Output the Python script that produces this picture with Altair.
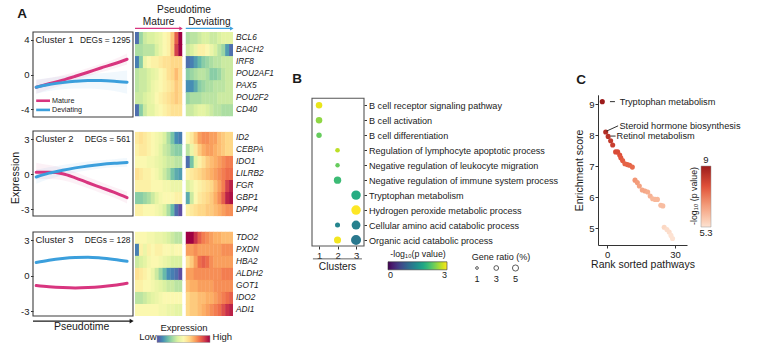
import altair as alt
import pandas as pd

FONT = "Liberation Sans"
PINK = "#d8357f"
BLUE = "#3b9fdc"
INK = "#1a1a1a"
AX = "#333333"

# ================= Panel A : smoothed expression trajectories =================
pseudotime = [0.0, 0.14, 0.29, 0.43, 0.57, 0.71, 0.86, 1.0]
c1_mature = [-1.46, -1.06, -0.64, -0.2, 0.26, 0.74, 1.23, 1.74]
c1_deviating = [-1.46, -1.15, -0.93, -0.78, -0.7, -0.7, -0.76, -0.88]
c2_mature = [0.17, 0.17, 0.05, -0.3, -0.72, -1.12, -1.55, -2.0]
c2_deviating = [-0.23, 0.1, 0.35, 0.55, 0.72, 0.85, 0.95, 1.02]
c3_mature = [-0.85, -0.95, -1.02, -1.05, -1.02, -0.95, -0.82, -0.65]
c3_deviating = [1.1, 1.3, 1.45, 1.53, 1.55, 1.48, 1.35, 1.2]
# faint spread of the individual gene trajectories (lower / upper envelopes)
c1_mature_lo = [-2.2, -1.7, -1.2, -0.7, -0.2, 0.25, 0.7, 1.15]
c1_mature_hi = [-0.6, -0.4, -0.1, 0.3, 0.75, 1.2, 1.75, 2.4]
c1_deviating_lo = [-2.2, -1.9, -1.7, -1.6, -1.6, -1.7, -1.9, -2.2]
c1_deviating_hi = [-0.6, -0.4, -0.2, -0.05, 0.05, 0.15, 0.3, 0.45]
c2_mature_lo = [-0.4, -0.4, -0.5, -0.8, -1.2, -1.6, -2.0, -2.5]
c2_mature_hi = [1.0, 0.8, 0.55, 0.2, -0.25, -0.65, -1.1, -1.5]
c2_deviating_lo = [-0.8, -0.4, -0.1, 0.15, 0.35, 0.5, 0.6, 0.65]
c2_deviating_hi = [0.4, 0.6, 0.8, 0.95, 1.1, 1.2, 1.3, 1.4]
cluster_names = ["Cluster 1", "Cluster 2", "Cluster 3"]
cluster_degs = ["DEGs = 1295", "DEGs = 561", "DEGs = 128"]
cluster_ticks = [[4, 0, -4], [3, 0, -3], [3, 0, -3]]
branches = ["Mature", "Deviating"]

# ================= Panel A : heatmaps (12 pseudotime bins per branch) =================
cluster1_genes = ["BCL6", "BACH2", "IRF8", "POU2AF1", "PAX5", "POU2F2", "CD40"]
cluster1_mature = [
    [-1.6, -0.8, -0.5, -0.4, -0.4, -0.3, -0.2, 0.0, 0.1, 0.5, 1.2, 2.0],
    [-0.7, -0.7, -0.6, -0.6, -0.6, -0.4, -0.2, 0.0, 0.1, 0.5, 1.4, 1.8],
    [-1.5, -0.9, -0.2, 0.0, 0.1, 0.1, 0.2, 0.3, 0.3, 0.4, 0.4, 0.4],
    [-0.6, -0.5, -0.5, -0.4, -0.3, -0.2, 0.0, 0.1, 0.3, 0.4, 0.6, 0.4],
    [-0.6, -0.5, -0.5, -0.4, -0.2, -0.1, 0.0, 0.1, 0.2, 0.3, 0.5, 0.4],
    [-0.5, -0.5, -0.4, -0.3, -0.2, 0.0, 0.1, 0.2, 0.3, 0.4, 0.5, 0.4],
    [-1.6, -0.9, -0.5, -0.3, -0.3, -0.1, 0.0, 0.1, 0.2, 0.3, 0.3, 0.3],
]
cluster1_deviating = [
    [-0.7, -0.6, -0.6, -0.5, -0.4, -0.4, -0.5, -0.5, -0.4, -0.3, -0.3, -0.3],
    [-0.5, -0.4, -0.2, 0.1, 0.1, 0.0, -0.2, -0.4, -0.6, -0.8, -1.3, -1.6],
    [-1.6, -1.5, -1.3, -1.1, -0.9, -0.8, -0.7, -0.6, -0.6, -0.5, -0.5, -0.5],
    [-0.9, -0.8, -0.7, -0.6, -0.6, -0.7, -0.9, -0.9, -0.8, -0.6, -0.5, -0.5],
    [-1.4, -1.4, -1.2, -0.9, -0.8, -0.7, -0.7, -0.6, -0.6, -0.6, -0.5, -0.5],
    [-0.8, -0.7, -0.7, -0.7, -0.6, -0.6, -0.6, -0.6, -0.5, -0.5, -0.5, -0.5],
    [-0.5, -0.5, -0.4, -0.3, -0.3, -0.4, -0.5, -0.6, -0.6, -0.7, -0.7, -0.7],
]
cluster2_genes = ["ID2", "CEBPA", "IDO1", "LILRB2", "FGR", "GBP1", "DPP4"]
cluster2_mature = [
    [0.2, 0.3, 0.2, 0.1, 0.0, -0.1, -0.2, -0.4, -0.7, -1.0, -1.4, -1.5],
    [0.1, 0.2, 0.2, 0.1, 0.0, -0.1, -0.3, -0.5, -0.6, -0.8, -0.9, -0.9],
    [0.0, 0.0, 0.0, -0.1, -0.1, -0.2, -0.3, -0.4, -0.5, -0.5, -0.6, -0.6],
    [0.3, 0.2, 0.1, 0.1, 0.0, -0.1, -0.3, -0.5, -0.7, -1.0, -1.2, -1.3],
    [0.1, 0.1, 0.1, 0.1, 0.0, 0.0, 0.0, -0.1, -0.1, -0.2, -0.2, -0.2],
    [-0.9, -0.9, -0.8, -0.7, -0.5, -0.3, -0.1, 0.0, 0.0, 0.0, 0.1, 0.1],
    [0.1, 0.1, 0.0, 0.0, 0.0, -0.1, -0.2, -0.4, -0.7, -1.1, -1.6, -1.8],
]
cluster2_deviating = [
    [0.0, 0.2, 0.5, 0.8, 0.9, 0.9, 0.8, 0.8, 0.6, 0.5, 0.4, 0.4],
    [-0.6, -0.2, 0.2, 0.5, 0.7, 0.8, 0.8, 0.7, 0.6, 0.5, 0.4, 0.4],
    [-1.6, -1.0, -0.3, 0.1, 0.3, 0.5, 0.6, 0.7, 0.8, 0.9, 1.0, 1.0],
    [0.1, 0.2, 0.3, 0.4, 0.5, 0.6, 0.7, 0.8, 0.9, 1.0, 1.1, 1.1],
    [-0.4, -0.2, 0.0, 0.1, 0.2, 0.3, 0.4, 0.6, 0.8, 1.0, 1.4, 1.6],
    [-1.2, -0.5, 0.0, 0.2, 0.3, 0.4, 0.5, 0.7, 0.9, 1.2, 1.6, 1.7],
    [0.1, 0.2, 0.3, 0.4, 0.4, 0.5, 0.5, 0.6, 0.7, 0.8, 0.9, 0.9],
]
cluster3_genes = ["TDO2", "PXDN", "HBA2", "ALDH2", "GOT1", "IDO2", "ADI1"]
cluster3_mature = [
    [0.0, 0.0, 0.0, -0.1, -0.1, -0.2, -0.2, -0.3, -0.4, -0.5, -0.6, -0.6],
    [-1.5, 0.1, -0.2, 0.1, 0.0, 0.1, 0.1, 0.0, 0.0, -0.1, 0.0, 0.0],
    [-0.5, -0.4, -0.3, -0.1, 0.0, 0.0, -0.1, -0.2, -0.3, -0.4, -0.4, -0.4],
    [0.3, 0.2, 0.1, 0.0, -0.2, -0.5, -0.8, -1.1, -1.4, -1.5, -1.6, -1.8],
    [0.1, 0.1, 0.0, 0.0, -0.1, -0.2, -0.3, -0.4, -0.5, -0.5, -0.6, -0.6],
    [-0.6, -0.6, -0.5, -0.4, -0.3, -0.2, -0.1, 0.0, 0.0, 0.0, 0.0, 0.0],
    [0.0, 0.0, 0.0, 0.0, 0.0, 0.0, -0.1, -0.1, -0.2, -0.2, -0.3, -0.3],
]
cluster3_deviating = [
    [1.9, 1.8, 1.5, 1.2, 1.0, 0.9, 0.8, 0.7, 0.7, 0.6, 0.6, 0.6],
    [0.8, 0.8, 0.9, 0.8, 0.8, 0.8, 0.8, 0.8, 0.8, 0.9, 0.9, 0.9],
    [0.3, 0.5, 0.8, 1.1, 1.2, 1.1, 0.9, 0.8, 0.8, 0.8, 0.8, 0.8],
    [0.8, 0.8, 0.9, 0.9, 0.9, 0.9, 0.9, 0.9, 0.9, 1.0, 1.0, 1.0],
    [0.6, 0.7, 0.7, 0.8, 0.8, 0.8, 0.8, 0.9, 0.9, 0.9, 0.9, 0.9],
    [0.4, 0.5, 0.5, 0.6, 0.6, 0.7, 0.7, 0.8, 0.9, 1.0, 1.1, 1.2],
    [0.4, 0.5, 0.5, 0.6, 0.7, 0.8, 0.9, 1.0, 1.1, 1.3, 1.5, 1.6],
]

# ================= Panel B : enrichment dot plot =================
pathways = [
    "B cell receptor signaling pathway",
    "B cell activation",
    "B cell differentiation",
    "Regulation of lymphocyte apoptotic process",
    "Negative regulation of leukocyte migration",
    "Negative regulation of immune system process",
    "Tryptophan metabolism",
    "Hydrogen peroxide metabolic process",
    "Cellular amino acid catabolic process",
    "Organic acid catabolic process",
]
b_pathway_idx = [0, 1, 2, 3, 4, 5, 6, 7, 8, 8, 9, 9]
b_cluster = [1, 1, 1, 2, 2, 2, 3, 3, 2, 3, 2, 3]
b_logp = [2.9, 2.5, 2.3, 2.7, 2.3, 2.05, 1.85, 3.0, 1.35, 1.3, 2.95, 1.2]
b_ratio = [5.6, 5.6, 3.8, 2.9, 2.6, 7.2, 12.0, 12.0, 3.4, 10.5, 6.7, 13.4]
ratio_legend = [1, 3, 5]

# ================= Panel C : ranked pathways =================
c_rank = [-2.2, -0.7, 0.4, 1.5, 2.4, 3.7, 4.6, 5.5, 6.0, 6.8, 7.8, 8.9, 9.9, 11.1, 12.3, 13.3,
          14.2, 15.5, 16.7, 17.9, 19.0, 20.1, 21.2, 22.2, 23.7, 24.6, 25.2, 26.4, 27.4, 28.2, 28.9]
c_score = [9.08, 8.1, 7.96, 7.82, 7.68, 7.46, 7.46, 7.36, 7.27, 7.18, 7.08, 7.05, 7.03, 6.97, 6.55, 6.47,
           6.36, 6.23, 6.2, 6.17, 6.04, 5.95, 5.93, 5.93, 5.74, 5.72, 5.03, 4.96, 4.88, 4.77, 4.67]
c_logp = [9.0, 8.6, 8.5, 8.3, 8.2, 7.9, 7.9, 7.8, 7.7, 7.6, 7.5, 7.5, 7.5, 7.4, 6.7, 6.6,
          6.5, 6.4, 6.4, 6.3, 6.2, 6.1, 6.1, 6.1, 6.0, 6.0, 5.5, 5.4, 5.4, 5.3, 5.3]
c_labels = ["Tryptophan metabolism", "Steroid hormone biosynthesis", "Retinol metabolism"]

# ---------------------------------------------------------------------------
def sc(dom, rng):
    return alt.Scale(domain=dom, range=rng, nice=False, zero=False)


def X(field, dom, rng, axis=None):
    return alt.X(field, type="quantitative", scale=sc(dom, rng), axis=axis)


def Y(field, dom, rng, axis=None):
    return alt.Y(field, type="quantitative", scale=sc(dom, rng), axis=axis)


branch_color = alt.Color("branch:N", scale=alt.Scale(domain=branches, range=[PINK, BLUE]), legend=None)

layers = []

# ---------- Panel A trajectories ----------
A_XD, A_XR = [-0.035, 1.065], [33, 133]
A_YD = [[-4.86, 4.86], [-3.57, 3.71], [-3.42, 3.68]]
A_YR = [[117, 32], [216, 131], [316, 232]]
series = [(c1_mature, c1_deviating), (c2_mature, c2_deviating), (c3_mature, c3_deviating)]
bands = [
    (c1_mature_lo, c1_mature_hi, c1_deviating_lo, c1_deviating_hi),
    (c2_mature_lo, c2_mature_hi, c2_deviating_lo, c2_deviating_hi),
]

for i in range(3):
    yd, yr = A_YD[i], A_YR[i]
    if i < 2:
        mlo, mhi, dlo, dhi = bands[i]
        band_df = pd.DataFrame({
            "t": pseudotime + pseudotime,
            "lo": mlo + dlo,
            "hi": mhi + dhi,
            "branch": ["Mature"] * len(mlo) + ["Deviating"] * len(dlo),
        })
        layers.append(
            alt.Chart(band_df).mark_area(opacity=0.07, interpolate="monotone").encode(
                x=X("t", A_XD, A_XR), y=Y("lo", yd, yr), y2="hi", color=branch_color)
        )
    box_df = pd.DataFrame({"x0": [A_XD[0]], "x1": [A_XD[1]], "y0": [yd[0]], "y1": [yd[1]]})
    layers.append(
        alt.Chart(box_df).mark_rect(fillOpacity=0, stroke="#3c3c3c", strokeWidth=1.1).encode(
            x=X("x0", A_XD, A_XR), x2="x1",
            y=Y("y0", yd, yr, axis=alt.Axis(
                orient="left", offset=-33, values=cluster_ticks[i], labelExpr="'' + datum.value",
                tickSize=2.5, tickColor=AX, domain=False, grid=False, labelFontSize=9.5,
                labelColor=INK, labelPadding=1.5, title=None)),
            y2="y1",
        )
    )
    mat, dev = series[i]
    line_df = pd.DataFrame({
        "t": pseudotime + pseudotime,
        "v": mat + dev,
        "branch": ["Mature"] * len(mat) + ["Deviating"] * len(dev),
    })
    layers.append(
        alt.Chart(line_df).mark_line(strokeWidth=3, interpolate="monotone", strokeCap="round").encode(
            x=X("t", A_XD, A_XR), y=Y("v", yd, yr), color=branch_color,
        )
    )
    name_df = pd.DataFrame({"x": [A_XD[0]], "y": [cluster_ticks[i][0]], "label": [cluster_names[i]]})
    layers.append(
        alt.Chart(name_df).mark_text(align="left", baseline="middle", dx=2.5, fontSize=9.5, color=INK).encode(
            x=X("x", A_XD, A_XR), y=Y("y", yd, yr), text="label:N")
    )
    deg_df = pd.DataFrame({"x": [A_XD[1]], "y": [cluster_ticks[i][0]], "label": [cluster_degs[i]]})
    layers.append(
        alt.Chart(deg_df).mark_text(align="right", baseline="middle", dx=-2.5, fontSize=8.4, color=INK).encode(
            x=X("x", A_XD, A_XR), y=Y("y", yd, yr), text="label:N")
    )

# legend of cluster 1
leg_df = pd.DataFrame({"x0": [0.0, 0.0], "x1": [0.152, 0.152], "y": [-3.0, -4.05], "branch": branches})
layers.append(
    alt.Chart(leg_df).mark_rule(strokeWidth=2.6).encode(
        x=X("x0", A_XD, A_XR), x2="x1", y=Y("y", A_YD[0], A_YR[0]), color=branch_color)
)
leg_txt = pd.DataFrame({"x": [0.175, 0.175], "y": [-3.0, -4.05], "branch": branches})
layers.append(
    alt.Chart(leg_txt).mark_text(align="left", baseline="middle", fontSize=7.2, color=INK).encode(
        x=X("x", A_XD, A_XR), y=Y("y", A_YD[0], A_YR[0]), text="branch:N")
)

# pseudotime arrow below cluster 3
arr_df = pd.DataFrame({"x0": [-0.035], "x1": [1.04], "y": [-3.85]})
layers.append(
    alt.Chart(arr_df).mark_rule(strokeWidth=1.3, color=INK).encode(
        x=X("x0", A_XD, A_XR), x2="x1", y=Y("y", A_YD[2], A_YR[2]))
)
layers.append(
    alt.Chart(pd.DataFrame({"x": [1.05], "y": [-3.85]})).mark_point(
        shape="triangle-right", filled=True, size=22, color=INK, opacity=1).encode(
        x=X("x", A_XD, A_XR), y=Y("y", A_YD[2], A_YR[2]))
)
layers.append(
    alt.Chart(pd.DataFrame({"x": [0.5], "y": [-4.37], "label": ["Pseudotime"]})).mark_text(
        baseline="middle", fontSize=10.5, color=INK).encode(
        x=X("x", A_XD, A_XR), y=Y("y", A_YD[2], A_YR[2]), text="label:N")
)

# ---------- Panel A heatmaps ----------
H_XD, H_XR = [0, 24.9], [135, 233]
H_YD, H_YR = [0, 23.6], [32, 316]
DEV_OFF = 12.9
heat_rows = []
gene_rows = []
for ci, (genes, mat, dev) in enumerate([
    (cluster1_genes, cluster1_mature, cluster1_deviating),
    (cluster2_genes, cluster2_mature, cluster2_deviating),
    (cluster3_genes, cluster3_mature, cluster3_deviating),
]):
    for gi, gene in enumerate(genes):
        r0 = ci * 8.3 + gi
        gene_rows.append({"x": H_XD[1], "y": r0 + 0.5, "gene": gene})
        for off, vals in ((0.0, mat[gi]), (DEV_OFF, dev[gi])):
            n = len(vals)
            for k, v in enumerate(vals):
                heat_rows.append({
                    "x0": off + k,
                    "x1": off + k + (1.0 if k == n - 1 else 1.1),
                    "y0": r0,
                    "y1": r0 + (1.0 if gi == len(genes) - 1 else 1.08),
                    "value": v,
                })
heat_df = pd.DataFrame(heat_rows)
layers.append(
    alt.Chart(heat_df).mark_rect(strokeWidth=0).encode(
        x=X("x0", H_XD, H_XR), x2="x1", y=Y("y0", H_YD, H_YR), y2="y1",
        color=alt.Color("value:Q", scale=alt.Scale(scheme="spectral", reverse=True, domain=[-1.8, 1.8], clamp=True),
                        legend=alt.Legend(orient="none", legendX=157, legendY=323, direction="horizontal",
                                          gradientLength=53, gradientThickness=7, title="Expression",
                                          titleFontSize=9.5, titleFontWeight="normal", titleAnchor="middle",
                                          titleColor=INK, titlePadding=3, titleBaseline="top", labelExpr="''",
                                          gradientStrokeColor="#999", gradientStrokeWidth=0.5)),
    )
)
layers.append(
    alt.Chart(pd.DataFrame(gene_rows)).mark_text(
        align="left", baseline="middle", dx=3, fontSize=8.3, fontStyle="italic", color=INK).encode(
        x=X("x", H_XD, H_XR), y=Y("y", H_YD, H_YR), text="gene:N")
)
# header arrows
hdr_df = pd.DataFrame({"x0": [0.0, DEV_OFF], "x1": [11.6, DEV_OFF + 11.6], "y": [-0.3, -0.3], "branch": branches})
layers.append(
    alt.Chart(hdr_df).mark_rule(strokeWidth=1.3).encode(
        x=X("x0", H_XD, H_XR), x2="x1", y=Y("y", H_YD, H_YR), color=branch_color)
)
hdr_tip = pd.DataFrame({"x": [11.7, DEV_OFF + 11.7], "y": [-0.3, -0.3], "branch": branches})
layers.append(
    alt.Chart(hdr_tip).mark_point(shape="triangle-right", filled=True, size=16, opacity=1).encode(
        x=X("x", H_XD, H_XR), y=Y("y", H_YD, H_YR), color=branch_color)
)
hdr_txt = pd.DataFrame({"x": [6.0, DEV_OFF + 6.0, 12.45], "y": [-0.85, -0.85, -1.8],
                        "label": ["Mature", "Deviating", "Pseudotime"]})
layers.append(
    alt.Chart(hdr_txt).mark_text(baseline="middle", fontSize=10.2, color=INK).encode(
        x=X("x", H_XD, H_XR), y=Y("y", H_YD, H_YR), text="label:N")
)
lohi = pd.DataFrame({"x": [5.5, 19.7], "y": [25.35, 25.35], "label": ["Low", "High"], "al": ["r", "l"]})
layers.append(
    alt.Chart(lohi[lohi.al == "r"]).mark_text(align="right", baseline="middle", fontSize=9.5, color=INK).encode(
        x=X("x", H_XD, H_XR), y=Y("y", H_YD, H_YR), text="label:N")
)
layers.append(
    alt.Chart(lohi[lohi.al == "l"]).mark_text(align="left", baseline="middle", fontSize=9.5, color=INK).encode(
        x=X("x", H_XD, H_XR), y=Y("y", H_YD, H_YR), text="label:N")
)

# ---------- Panel B ----------
B_XD, B_XR = [0.62, 3.43], [312, 364]
B_YD, B_YR = [-0.47, 9.4], [98.3, 246]
box_b = pd.DataFrame({"x0": [B_XD[0]], "x1": [B_XD[1]], "y0": [B_YD[0]], "y1": [B_YD[1]]})
label_expr = "[" + ",".join("'" + p + "'" for p in pathways) + "][datum.value]"
layers.append(
    alt.Chart(box_b).mark_rect(fillOpacity=0, stroke="#555", strokeWidth=1.1).encode(
        x=X("x0", B_XD, B_XR, axis=alt.Axis(orient="bottom", offset=-(355 - 246), values=[1, 2, 3], tickSize=3,
                                             tickColor=AX, domain=False, grid=False, labelFontSize=9.5,
                                             labelColor=INK, labelPadding=1, title=None, labelFlush=False)),
        x2="x1",
        y=Y("y0", B_YD, B_YR, axis=alt.Axis(orient="right", offset=-(763 - 364), values=list(range(10)),
                                             labelExpr=label_expr, tickSize=2.5, tickColor=AX, domain=False,
                                             grid=False, labelFontSize=9.1, labelColor=INK, labelPadding=2,
                                             title=None, labelOverlap=False, labelLimit=400)),
        y2="y1",
    )
)
dots = pd.DataFrame({"row": b_pathway_idx, "cluster": b_cluster, "logp": b_logp, "ratio": b_ratio})
SIZE_SC = alt.Scale(domain=[0, 14], range=[0, 105], zero=True)
layers.append(
    alt.Chart(dots).mark_circle(opacity=1).encode(
        x=X("cluster", B_XD, B_XR), y=Y("row", B_YD, B_YR),
        size=alt.Size("ratio:Q", scale=SIZE_SC, legend=None),
        color=alt.Color("logp:Q", scale=alt.Scale(scheme="viridis", domain=[0, 3]),
                        legend=alt.Legend(orient="none", legendX=388, legendY=250, direction="horizontal",
                                          gradientLength=59, gradientThickness=8, title="-log₁₀(p value)",
                                          titleFontSize=8.8, titleFontWeight="normal", titleAnchor="middle",
                                          titleColor=INK, titlePadding=3, values=[0, 3], labelFontSize=9,
                                          labelColor=INK, labelOffset=1, gradientStrokeColor="#333",
                                          gradientStrokeWidth=0.6)),
    )
)
clus_line = pd.DataFrame({"x0": [0.67], "x1": [3.32], "y": [10.26]})
layers.append(
    alt.Chart(clus_line).mark_rule(strokeWidth=0.9, color="#555").encode(
        x=X("x0", B_XD, B_XR), x2="x1", y=Y("y", B_YD, B_YR))
)
layers.append(
    alt.Chart(pd.DataFrame({"x": [2.0], "y": [10.78], "label": ["Clusters"]})).mark_text(
        baseline="middle", fontSize=10.2, color=INK).encode(
        x=X("x", B_XD, B_XR), y=Y("y", B_YD, B_YR), text="label:N")
)
# gene ratio legend (size scale shared with the dots)
GL_XD, GL_XR = [1, 5], [477, 515.5]
GL_YD, GL_YR = [0, 1], [268, 278.5]
gl = pd.DataFrame({"ratio": ratio_legend, "row": [0] * 3, "lab_row": [1] * 3, "label": [str(v) for v in ratio_legend]})
layers.append(
    alt.Chart(gl).mark_point(shape="circle", filled=False, stroke="#333", strokeWidth=0.8, opacity=1).encode(
        x=X("ratio", GL_XD, GL_XR), y=Y("row", GL_YD, GL_YR),
        size=alt.Size("ratio:Q", scale=SIZE_SC, legend=None))
)
layers.append(
    alt.Chart(gl).mark_text(baseline="middle", fontSize=9.2, color=INK).encode(
        x=X("ratio", GL_XD, GL_XR), y=Y("lab_row", GL_YD, GL_YR), text="label:N")
)

# ---------- Panel C ----------
C_XD, C_XR = [-4.1, 35.3], [598, 687]
C_YD, C_YR = [4.46, 9.3], [245, 94.8]
cdf = pd.DataFrame({"rank": c_rank, "score": c_score, "logp": c_logp})
layers.append(
    alt.Chart(cdf).mark_circle(size=26, opacity=1).encode(
        x=X("rank", C_XD, C_XR, axis=alt.Axis(orient="bottom", offset=-(355 - 245), values=[0, 30], tickSize=3,
                                               tickColor=AX, domainColor=AX, domainWidth=1, grid=False,
                                               labelFontSize=9.5, labelColor=INK, labelPadding=1,
                                               labelFlush=False, title="Rank sorted pathways",
                                               titleFontSize=10.5, titleFontWeight="normal", titleColor=INK,
                                               titlePadding=1)),
        y=Y("score", C_YD, C_YR, axis=alt.Axis(orient="left", offset=-598, values=[5, 6, 7, 8, 9], tickSize=3,
                                                tickColor=AX, domainColor=AX, domainWidth=1, grid=False,
                                                labelFontSize=9.5, labelColor=INK, labelPadding=1,
                                                title="Enrichment score", titleFontSize=10.5,
                                                titleFontWeight="normal", titleColor=INK, titlePadding=4)),
        color=alt.Color("logp:Q", scale=alt.Scale(domain=[5.3, 9], range=["#fde2d2", "#f4a07f", "#e0503a", "#9c1b1b"]),
                        legend=alt.Legend(orient="none", legendX=701, legendY=166, direction="vertical",
                                          gradientLength=61, gradientThickness=10, title=None, values=[5.3, 9],
                                          labelExpr="''", gradientStrokeColor="#999", gradientStrokeWidth=0.5)),
    )
)
conn = pd.DataFrame({"x0": [1.2, -0.3, 1.5], "x1": [3.4, 4.8, 3.7], "y0": [9.08, 8.13, 7.97], "y1": [9.08, 8.3, 7.97]})
layers.append(
    alt.Chart(conn).mark_rule(strokeWidth=0.9, color=INK).encode(
        x=X("x0", C_XD, C_XR), x2="x1", y=Y("y0", C_YD, C_YR), y2="y1")
)
ann = pd.DataFrame({"x": [5.5, 5.4, 4.1], "y": [9.08, 8.3, 7.97], "label": c_labels})
layers.append(
    alt.Chart(ann).mark_text(align="left", baseline="middle", fontSize=9.2, color=INK).encode(
        x=X("x", C_XD, C_XR), y=Y("y", C_YD, C_YR), text="label:N")
)

# ---------- free annotations (titles, panel letters) ----------
def free_text(label, x, y, size, weight="normal", angle=0, align="center"):
    return alt.Chart(pd.DataFrame({"label": [label]})).mark_text(
        align=align, baseline="middle", fontSize=size, fontWeight=weight, angle=angle, color=INK).encode(
        x=alt.value(x), y=alt.value(y), text="label:N")


layers += [
    free_text("A", 22, 14, 13.5, "bold"),
    free_text("B", 297, 79, 13.5, "bold"),
    free_text("C", 581, 80, 13.5, "bold"),
    free_text("Expression", 16, 178, 10.5, angle=270),
    free_text("Gene ratio (%)", 501, 257, 9),
    free_text("9", 706, 160, 9.5),
    free_text("5.3", 706, 233, 9.5),
    free_text("-log₁₀ (p value)", 694, 196, 8.8, angle=270),
]

chart = (
    alt.layer(*layers)
    .resolve_scale(x="independent", y="independent", color="independent", size="independent")
    .resolve_axis(x="independent", y="independent")
    .resolve_legend(color="independent", size="independent")
    .properties(width=763, height=355, padding=0, autosize=alt.AutoSizeParams(type="none"), background="white")
    .configure(font=FONT)
    .configure_view(stroke=None)
)
chart.save("out.html", embed_options={"renderer": "svg", "actions": False})
